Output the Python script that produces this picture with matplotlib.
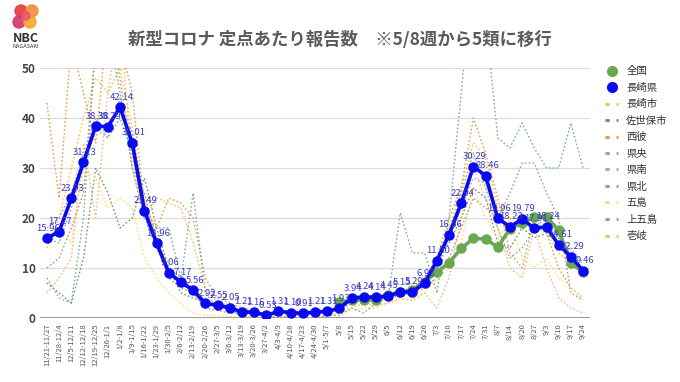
import matplotlib
matplotlib.use("Agg")
import matplotlib.pyplot as plt
import numpy as np
from matplotlib.patches import Circle
from matplotlib.lines import Line2D

plt.rcParams['font.family'] = ['Noto Sans CJK JP', 'DejaVu Sans']

# week labels
weeks = ['11/21-11/27', '11/28-12/4', '12/5-12/11', '12/12-12/18', '12/19-12/25',
         '12/26-1/1', '1/2-1/8', '1/9-1/15', '1/16-1/22', '1/23-1/29', '1/30-2/5',
         '2/6-2/12', '2/13-2/19', '2/20-2/26', '2/27-3/5', '3/6-3/12', '3/13-3/19',
         '3/20-3/26', '3/27-4/2', '4/3-4/9', '4/10-4/16', '4/17-4/23', '4/24-4/30',
         '5/1-5/7', '5/8', '5/15', '5/22', '5/29', '6/5', '6/12', '6/19', '6/26',
         '7/3', '7/10', '7/17', '7/24', '7/31', '8/7', '8/14', '8/20', '8/27',
         '9/3', '9/10', '9/17', '9/24']

# 長崎県
nagasaki_pref = [15.96, 17.27, 23.93, 31.13, 38.38, 38.29, 42.14, 35.01, 21.49, 14.96,
                 9.06, 7.17, 5.56, 2.92, 2.55, 2.05, 1.21, 1.16, 0.53, 1.31, 1.10,
                 0.91, 1.21, 1.31, 1.93, 3.94, 4.24, 4.14, 4.45, 5.15, 5.29, 6.93,
                 11.50, 16.66, 22.94, 30.29, 28.46, 19.96, 18.23, 19.79, 17.91, 18.24,
                 14.61, 12.29, 9.46]

# 全国 (from 5/8)
national = [None] * 24 + [3.20, 3.55, 3.63, 3.56, 4.55, 5.11, 5.60, 7.24, 9.14, 11.04,
                          13.91, 15.91, 15.81, 14.16, 17.84, 19.07, 20.19, 20.20,
                          17.54, 11.00, 9.20]

# regional series (rough reading)
nagasaki_city = [14, 20, 30, 40, 48, 45, 50, 38, 24, 16, 10, 8, 6, 3.5, 3, 2.5, 1.5, 1.2,
                 0.6, 1.4, 1.2, 1.0, 1.3, 1.4, 2.2, 4.2, 4.5, 4.3, 4.8, 5.5, 6, 7.5, 12,
                 18, 26, 35, 32, 22, 20, 21, 18, 17, 13, 11, 8]
sasebo = [7, 5, 3, 12, 30, 25, 18, 20, 28, 18, 10, 5, 4, 3, 2.5, 2, 1, 1, 0.5, 1.2, 1,
          0.8, 1.1, 1.2, 1.8, 3.5, 4, 4, 4.2, 5, 5.2, 6.5, 11, 15, 20, 26, 24, 15, 14,
          18, 16, 17, 15, 12, 10]
nishisonogi = [43, 24, 55, 45, 35, 60, 55, 45, 22, 18, 24, 23, 20, 8, 4, 3, 2, 1.5, 0.8,
               1.5, 1.5, 1.2, 1.5, 1.5, 2, 3, 4, 4.5, 5, 5.5, 6, 8, 12, 20, 26, 40, 33,
               24, 13, 10, 20, 17, 10, 6, 4]
kenou = [16, 15, 22, 30, 38, 36, 40, 33, 20, 14, 9, 7, 5, 2.5, 2.3, 1.8, 1.1, 1.0, 0.5,
         1.2, 1.0, 0.9, 1.2, 1.3, 1.9, 3.8, 4.0, 4.3, 4.5, 5.2, 5.5, 7, 12, 17, 25, 33,
         26, 18, 12, 14, 18, 20, 16, 13, 9]
kennan = [18, 20, 25, 33, 40, 36, 44, 37, 23, 15, 10, 8, 6, 3, 3, 2, 1.3, 1.2, 0.6, 1.4,
          1.2, 1.0, 1.3, 1.4, 2.0, 4, 4.5, 4.2, 4.6, 5.2, 5.5, 7, 11, 16, 22, 28, 27, 20,
          17, 20, 18, 19, 16, 14, 11]
kenhoku = [10, 12, 18, 25, 55, 60, 48, 30, 25, 15, 8, 6, 5, 2, 1.5, 1, 1, 0.8, 0.3, 0.8,
           0.6, 0.5, 0.8, 1, 1.5, 3, 3.5, 3.5, 4, 4.5, 5, 6, 8, 12, 18, 24, 22, 20, 25,
           31, 31, 25, 20, 5, 3.6]
goto = [20, 18, 15, 30, 28, 22, 24, 22, 12, 8, 5, 3, 1, 0.5, 0.5, 0.3, 0.2, 0.2, 0, 0.5,
        0.3, 0, 0.5, 0.5, 1.0, 1.5, 2, 2, 3, 3.5, 4, 5, 8, 10, 15, 26, 20, 16, 20, 12,
        10, 12, 8, 6, 4]
kamigoto = [8, 4, 3, 20, 55, 58, 45, 30, 20, 18, 18, 8, 25, 5, 2, 3, 0, 0, 0, 0.5, 0, 0,
            0, 0.5, 0.5, 2, 1, 3, 4, 21, 13, 13, 5, 20, 45, 70, 60, 36, 34, 39, 34, 30,
            30, 39, 30]
iki = [5, 8, 12, 35, 20, 45, 60, 30, 20, 24, 23, 22, 15, 6, 3, 1.5, 0.5, 0, 0, 0, 0.5,
       0, 0, 0.5, 1.0, 2, 3, 2.5, 3, 4, 3.5, 5, 2, 8, 20, 30, 24, 18, 10, 8, 18, 10, 4,
       2, 1]

regions = [('長崎市', nagasaki_city, '#f1c232'),
           ('佐世保市', sasebo, '#5e8f6e'),
           ('西彼', nishisonogi, '#e69138'),
           ('県央', kenou, '#76a5af'),
           ('県南', kennan, '#8fa5c4'),
           ('県北', kenhoku, '#b5877a'),
           ('五島', goto, '#ffd966'),
           ('上五島', kamigoto, '#6aa88a'),
           ('壱岐', iki, '#f6b26b')]

fig = plt.figure(figsize=(6.8, 3.82), dpi=100)
ax = fig.add_axes([40 / 680, 64 / 382, 550 / 680, 250 / 382])
x = np.arange(len(weeks))

for name, vals, col in regions:
    ax.plot(x, vals, color=col, lw=1.0, dashes=(1.2, 1.6), alpha=0.9, zorder=2)

nat = np.array([np.nan if v is None else v for v in national])
blue = '#0a0aee'
green = '#6aa84f'
ax.plot(x, nat, color=green, lw=2.6, marker='o', ms=6.5, zorder=3)
ax.plot(x, nagasaki_pref, color=blue, lw=2.6, marker='o', ms=6.5, zorder=4)

for xi, v in zip(x, nagasaki_pref):
    ax.annotate(f'{v:.2f}', (xi, v), xytext=(1, 4), textcoords='offset points',
                ha='center', va='bottom', fontsize=6.8, color='#3b3bc4', zorder=5,
                annotation_clip=False)

ax.set_xlim(-0.57, len(weeks) - 0.43)
ax.set_ylim(0, 50)
ax.set_yticks([0, 10, 20, 30, 40, 50])
ax.set_xticks(x)
ax.set_xticklabels(weeks, rotation=90, fontsize=5.5, color='#555555')
ax.tick_params(axis='y', labelsize=8.5, labelcolor='#444444', length=0, pad=3)
ax.tick_params(axis='x', length=0, pad=4)
for t in ax.get_yticklabels():
    t.set_fontweight('bold')
ax.grid(axis='y', color='#dddddd', lw=0.9)
ax.set_axisbelow(True)
for s in ax.spines.values():
    s.set_visible(False)
ax.axhline(0, color='#888888', lw=1.2, zorder=1)

# legend
handles = [Line2D([], [], ls='none', marker='o', ms=7, color=green),
           Line2D([], [], ls='none', marker='o', ms=7, color=blue)]
labels = ['全国', '長崎県']
for name, vals, col in regions:
    handles.append(Line2D([], [], color=col, lw=2, dashes=(1.5, 2.5)))
    labels.append(name)
fig.legend(handles, labels, loc='upper left',
           bbox_to_anchor=(596 / 680, 1 - 57 / 382), frameon=False, fontsize=7.5,
           handlelength=1.2, handletextpad=0.8, labelspacing=0.62,
           labelcolor='#333333')

fig.text(0.5, 1 - 40 / 382, '新型コロナ 定点あたり報告数　※5/8週から5類に移行',
         ha='center', va='center', fontsize=12.5, fontweight='bold', color='#5a5a5a')

# logo
lax = fig.add_axes([0, 1 - 55 / 382, 55 / 680, 55 / 382])
lax.set_xlim(0, 55)
lax.set_ylim(55, 0)
lax.axis('off')
for cx, cy, r, c in [(21, 11, 6, '#e8383d'), (32, 11, 6, '#f08c3c'),
                     (19, 22, 6, '#d6336c'), (30, 22, 6, '#f5a623'),
                     (26, 16, 4, '#ec5a6a')]:
    lax.add_patch(Circle((cx, cy), r, color=c, alpha=0.9))
lax.text(26, 38, 'NBC', ha='center', va='center', fontsize=9, fontweight='bold',
         color='#333333')
lax.text(26, 47, 'NAGASAKI', ha='center', va='center', fontsize=4, color='#333333')

fig.savefig('out.png', dpi=100)
